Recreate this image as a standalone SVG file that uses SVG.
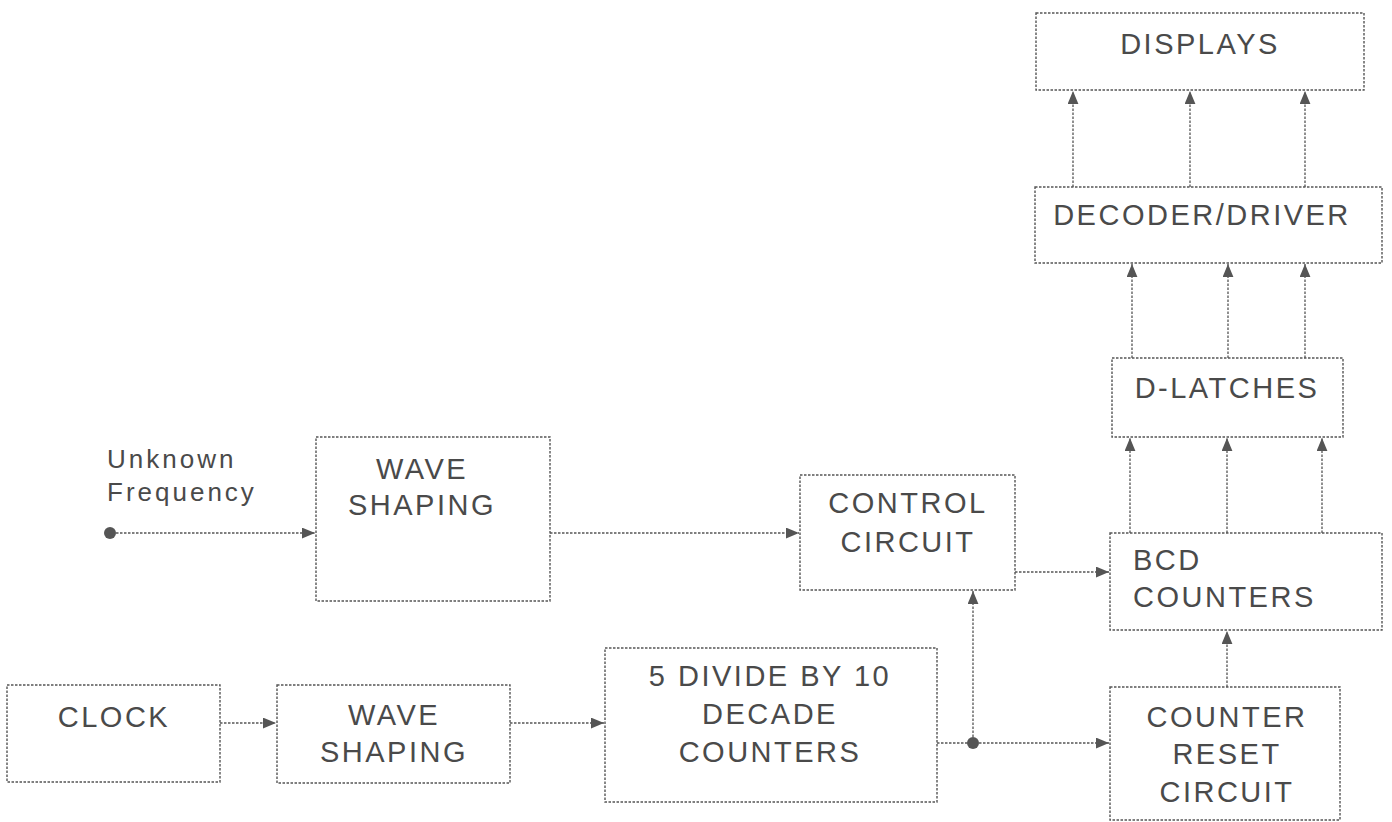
<svg xmlns="http://www.w3.org/2000/svg" width="1392" height="822" viewBox="0 0 1392 822">
<style>
.box{fill:none;stroke:#555;stroke-width:1.4;stroke-dasharray:2.5 1.5}
.ln{fill:none;stroke:#555;stroke-width:1.3;stroke-dasharray:2.5 1.5}
.t{font-family:"Liberation Sans",Arial,sans-serif;font-size:29px;letter-spacing:2.5px;fill:#4a4a4a;text-anchor:middle}
.tl{text-anchor:start}
.lc{font-size:26px;letter-spacing:3px}
.dot{fill:#555}
</style>
<defs>
<marker id="ah" viewBox="0 0 12 10" refX="12" refY="5" markerWidth="13" markerHeight="11" markerUnits="userSpaceOnUse" orient="auto">
<path d="M0,0 L12,5 L0,10 Z" fill="#555"/>
</marker>
</defs>
<rect width="1392" height="822" fill="#fff"/>

<g id="displays"><rect class="box" x="1036" y="13" width="328" height="77"/><text class="t" x="1200" y="54">DISPLAYS</text></g>
<g id="decoder"><rect class="box" x="1035" y="187" width="347" height="76"/><text class="t" x="1202" y="225">DECODER/DRIVER</text></g>
<g id="dlatches"><rect class="box" x="1112" y="358" width="231" height="79"/><text class="t" x="1227" y="398">D-LATCHES</text></g>
<g id="bcd"><rect class="box" x="1110" y="533" width="272" height="97"/><text class="t tl" x="1133" y="570">BCD</text><text class="t tl" x="1133" y="607">COUNTERS</text></g>
<g id="reset"><rect class="box" x="1110" y="687" width="230" height="133"/><text class="t" x="1227" y="727">COUNTER</text><text class="t" x="1227" y="764">RESET</text><text class="t" x="1227" y="802">CIRCUIT</text></g>
<g id="control"><rect class="box" x="800" y="475" width="215" height="115"/><text class="t" x="908" y="513">CONTROL</text><text class="t" x="908" y="552">CIRCUIT</text></g>
<g id="divide"><rect class="box" x="605" y="648" width="332" height="154"/><text class="t" x="770" y="686">5 DIVIDE BY 10</text><text class="t" x="770" y="724">DECADE</text><text class="t" x="770" y="762">COUNTERS</text></g>
<g id="wave1"><rect class="box" x="316" y="437" width="234" height="164"/><text class="t" x="422" y="479">WAVE</text><text class="t" x="422" y="515">SHAPING</text></g>
<g id="clock"><rect class="box" x="7" y="685" width="213" height="97"/><text class="t" x="114" y="727">CLOCK</text></g>
<g id="wave2"><rect class="box" x="277" y="685" width="233" height="98"/><text class="t" x="394" y="725">WAVE</text><text class="t" x="394" y="762">SHAPING</text></g>
<g id="input"><text class="t tl lc" x="107" y="468">Unknown</text><text class="t tl lc" x="107" y="501">Frequency</text></g>

<g id="connectors">
<circle class="dot" cx="110" cy="533" r="6"/>
<line class="ln" x1="116" y1="533" x2="315" y2="533" marker-end="url(#ah)"/>
<line class="ln" x1="550" y1="533" x2="799" y2="533" marker-end="url(#ah)"/>
<line class="ln" x1="1015" y1="572" x2="1109" y2="572" marker-end="url(#ah)"/>
<line class="ln" x1="220" y1="723" x2="276" y2="723" marker-end="url(#ah)"/>
<line class="ln" x1="510" y1="723" x2="604" y2="723" marker-end="url(#ah)"/>
<line class="ln" x1="937" y1="743" x2="973" y2="743"/>
<circle class="dot" cx="973" cy="743" r="6"/>
<line class="ln" x1="979" y1="743" x2="1109" y2="743" marker-end="url(#ah)"/>
<line class="ln" x1="973" y1="737" x2="973" y2="591" marker-end="url(#ah)"/>
<line class="ln" x1="1227" y1="687" x2="1227" y2="631" marker-end="url(#ah)"/>
<line class="ln" x1="1130" y1="533" x2="1130" y2="438" marker-end="url(#ah)"/>
<line class="ln" x1="1227" y1="533" x2="1227" y2="438" marker-end="url(#ah)"/>
<line class="ln" x1="1322" y1="533" x2="1322" y2="438" marker-end="url(#ah)"/>
<line class="ln" x1="1132" y1="358" x2="1132" y2="264" marker-end="url(#ah)"/>
<line class="ln" x1="1228" y1="358" x2="1228" y2="264" marker-end="url(#ah)"/>
<line class="ln" x1="1305" y1="358" x2="1305" y2="264" marker-end="url(#ah)"/>
<line class="ln" x1="1073" y1="187" x2="1073" y2="91" marker-end="url(#ah)"/>
<line class="ln" x1="1190" y1="187" x2="1190" y2="91" marker-end="url(#ah)"/>
<line class="ln" x1="1305" y1="187" x2="1305" y2="91" marker-end="url(#ah)"/>
</g>
</svg>
